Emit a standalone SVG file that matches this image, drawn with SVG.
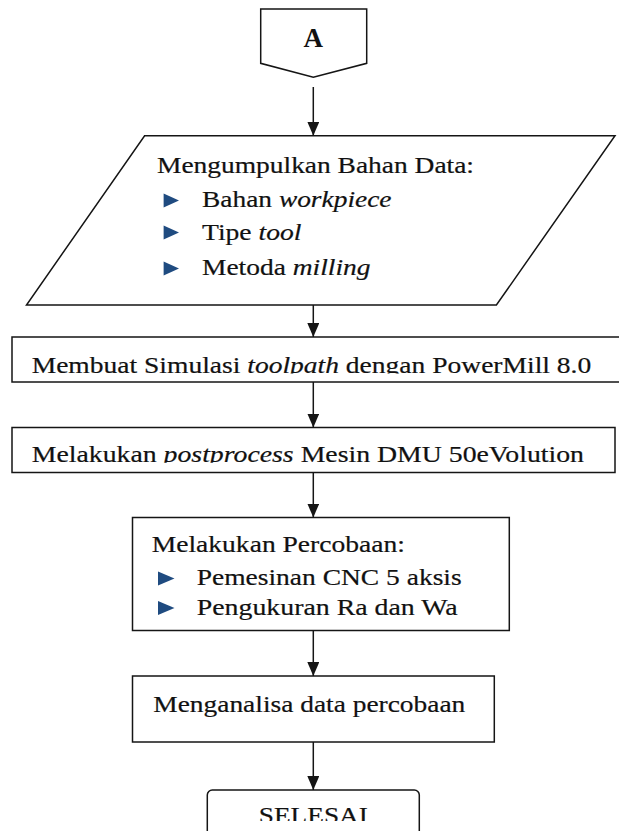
<svg xmlns="http://www.w3.org/2000/svg" width="619" height="831" viewBox="0 0 619 831" font-family="'Liberation Serif', Tinos, 'Times New Roman', serif">
<style>
.shape{fill:#fff;stroke:#151515;stroke-width:1.5}
.t{font-family:'Liberation Serif',Tinos,'Times New Roman',serif;font-size:23.5px;fill:#111;stroke:#111;stroke-width:0.2}
.i{font-style:italic}
.bul{fill:#1f4b80}
.conn{fill:none;stroke:#151515;stroke-width:1.5}
</style>
<defs>
<marker id="arr" viewBox="0 0 14 12" refX="14" refY="6" markerWidth="14" markerHeight="12" markerUnits="userSpaceOnUse" orient="auto">
<path d="M0,0 L14,6 L0,12 z" fill="#151515"/>
</marker>
<clipPath id="c1"><rect x="0" y="330" width="619" height="43.5"/></clipPath>
<clipPath id="c2"><rect x="0" y="420" width="619" height="42.7"/></clipPath>
<clipPath id="c3"><rect x="0" y="780" width="619" height="41"/></clipPath>
</defs>
<rect width="619" height="831" fill="#fff"/>
<g id="connector-A">
<polygon class="shape" points="260.7,9 366.7,9 366.7,63.3 313.3,77.3 260.7,63.3"/>
<text x="313.3" y="46.7" text-anchor="middle" style="font-family:'Liberation Serif',Tinos,'Times New Roman',serif;font-size:27px;font-weight:bold;fill:#111">A</text>
</g>
<g id="node-data">
<polygon class="shape" points="144.6,135.7 615,135.7 496.4,305 26.5,305"/>
<text class="t" x="157" y="173" textLength="317" lengthAdjust="spacingAndGlyphs">Mengumpulkan Bahan Data:</text>
<polygon class="bul" points="163.6,193.5 179,200.5 163.6,207.5"/>
<text class="t" x="202" y="207" textLength="189.5" lengthAdjust="spacingAndGlyphs">Bahan <tspan class="i">workpiece</tspan></text>
<polygon class="bul" points="163.6,225.5 179,232.5 163.6,239.5"/>
<text class="t" x="202" y="239.5" textLength="99.5" lengthAdjust="spacingAndGlyphs">Tipe <tspan class="i">tool</tspan></text>
<polygon class="bul" points="163.6,261.5 179,268.5 163.6,275.5"/>
<text class="t" x="202" y="275" textLength="168.5" lengthAdjust="spacingAndGlyphs">Metoda <tspan class="i">milling</tspan></text>
</g>
<g id="node-simulasi">
<rect class="shape" x="12" y="337" width="620" height="45"/>
<text class="t" x="31.7" y="372.5" textLength="559.5" lengthAdjust="spacingAndGlyphs" clip-path="url(#c1)">Membuat Simulasi <tspan class="i">toolpath</tspan> dengan PowerMill 8.0</text>
</g>
<g id="node-postprocess">
<rect class="shape" x="12" y="427.5" width="603" height="45"/>
<text class="t" x="31.7" y="461.7" textLength="552.3" lengthAdjust="spacingAndGlyphs" clip-path="url(#c2)">Melakukan <tspan class="i">postprocess</tspan> Mesin DMU 50eVolution</text>
</g>
<g id="node-percobaan">
<rect class="shape" x="132.5" y="517.5" width="376.8" height="113"/>
<text class="t" x="151.7" y="551.5" textLength="253.3" lengthAdjust="spacingAndGlyphs">Melakukan Percobaan:</text>
<polygon class="bul" points="158,571.5 174.5,578.5 158,585.5"/>
<text class="t" x="196.7" y="585" textLength="265" lengthAdjust="spacingAndGlyphs">Pemesinan CNC 5 aksis</text>
<polygon class="bul" points="158,601 174.5,608 158,615"/>
<text class="t" x="196.7" y="614.5" textLength="261" lengthAdjust="spacingAndGlyphs">Pengukuran Ra dan Wa</text>
</g>
<g id="node-analisa">
<rect class="shape" x="132.5" y="676" width="361.8" height="66"/>
<text class="t" x="153.3" y="711.7" textLength="312" lengthAdjust="spacingAndGlyphs">Menganalisa data percobaan</text>
</g>
<g id="node-selesai">
<rect class="shape" x="207.3" y="790" width="212" height="60" rx="5" ry="5"/>
<text class="t" x="313.3" y="823" text-anchor="middle" textLength="109" lengthAdjust="spacingAndGlyphs" clip-path="url(#c3)">SELESAI</text>
</g>
<g id="connectors">
<path class="conn" d="M313.3,87 V135.7" marker-end="url(#arr)"/>
<path class="conn" d="M313.3,305 V337" marker-end="url(#arr)"/>
<path class="conn" d="M313.3,382 V427.5" marker-end="url(#arr)"/>
<path class="conn" d="M313.3,472.5 V517.5" marker-end="url(#arr)"/>
<path class="conn" d="M313.3,630.5 V676" marker-end="url(#arr)"/>
<path class="conn" d="M313.3,742 V790" marker-end="url(#arr)"/>
</g>
</svg>
